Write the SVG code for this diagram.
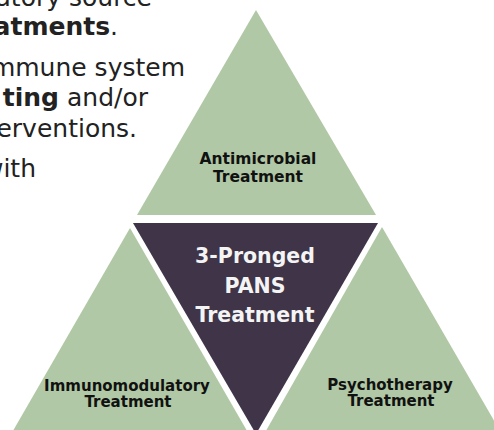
<svg xmlns="http://www.w3.org/2000/svg" width="494" height="430" viewBox="0 0 494 430">
<style>
.body{font-family:"DejaVu Sans","Liberation Sans",sans-serif;font-size:25px;fill:#222;}
.b{font-weight:bold;}
.green{fill:#b0c8a5;}
.dark{fill:#3f3448;}
.lbl{font-family:"DejaVu Sans","Liberation Sans",sans-serif;font-weight:bold;font-size:15.5px;fill:#111;text-anchor:middle;}
.sm{font-size:15px;}
.ctr{font-family:"DejaVu Sans","Liberation Sans",sans-serif;font-weight:bold;font-size:20.5px;fill:#f4f4f4;text-anchor:middle;}
</style>
<rect width="494" height="430" fill="#fff"/>
<g id="body-text" text-anchor="end">
<text class="body" x="152" y="6">atory source</text>
<text class="body" x="118" y="35"><tspan class="b">eatments</tspan>.</text>
<text class="body" x="185" y="76">mmune system</text>
<text class="body" x="148" y="106"><tspan class="b">ting</tspan> and/or</text>
<text class="body" x="137" y="137">erventions.</text>
<text class="body" x="36" y="177">with</text>
</g>
<g id="antimicrobial">
<polygon class="green" points="256,10 137,215 376,215"/>
<text class="lbl" x="258" y="164">Antimicrobial</text>
<text class="lbl" x="258" y="182">Treatment</text>
</g>
<g id="immunomodulatory">
<polygon class="green" points="130,228 10,436 250,436"/>
<text class="lbl sm" x="127" y="391">Immunomodulatory</text>
<text class="lbl sm" x="128" y="407">Treatment</text>
</g>
<g id="psychotherapy">
<polygon class="green" points="382,227 263,436 503,436"/>
<text class="lbl sm" x="390" y="390">Psychotherapy</text>
<text class="lbl sm" x="391" y="406">Treatment</text>
</g>
<g id="pans">
<polygon class="dark" points="133,223 378,223 256,434"/>
<text class="ctr" x="255" y="263">3-Pronged</text>
<text class="ctr" x="255" y="293">PANS</text>
<text class="ctr" x="255" y="322">Treatment</text>
</g>
<g id="connectors"/>
</svg>
